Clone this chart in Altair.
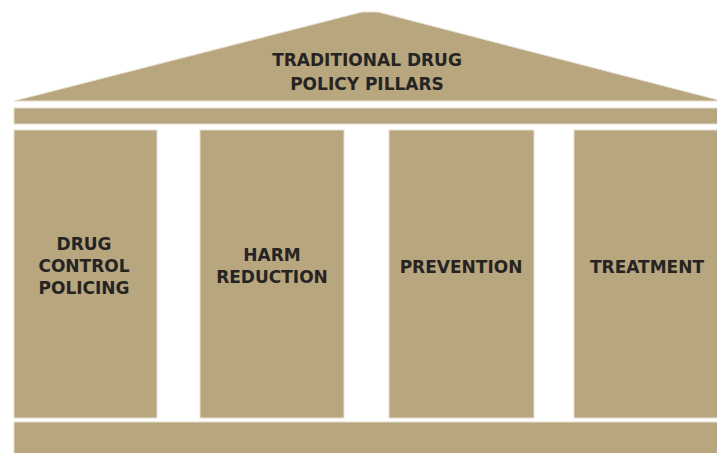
import altair as alt
import pandas as pd

TAN = "#B8A67F"
EDGE = "#E6DFD0"
INK = "#262422"

# Roof outline (triangle)
roof_x = [14, 362, 378, 722]
roof_y = [101, 12, 12, 101]

# Horizontal bands: entablature and base
band_x1 = [14, 14]
band_x2 = [722, 722]
band_y1 = [108, 422]
band_y2 = [124, 461]

# Pillars
pillar_names = ["DRUG CONTROL POLICING", "HARM REDUCTION", "PREVENTION", "TREATMENT"]
pillar_x1 = [14, 200, 389, 574]
pillar_x2 = [157, 344, 534, 722]
pillar_y1 = [130, 130, 130, 130]
pillar_y2 = [418, 418, 418, 418]

# Text lines
label_text = ["TRADITIONAL DRUG", "POLICY PILLARS",
              "DRUG", "CONTROL", "POLICING",
              "HARM", "REDUCTION",
              "PREVENTION", "TREATMENT"]
label_x = [367, 367, 84, 84, 84, 272, 272, 461, 647]
label_y = [61, 85, 245, 267, 289, 256, 278, 268, 268]

xs = alt.Scale(domain=[8, 717], nice=False, zero=False)
ys = alt.Scale(domain=[8, 453], nice=False, zero=False, reverse=True)
X = lambda f: alt.X(f, type="quantitative", scale=xs, axis=None)
Y = lambda f: alt.Y(f, type="quantitative", scale=ys, axis=None)

roof_df = pd.DataFrame({"x": roof_x, "y": roof_y, "base": [101] * len(roof_x)})
roof = alt.Chart(roof_df).mark_area(color=TAN, stroke=EDGE, strokeWidth=1, clip=True).encode(
    x=X("x"), y=Y("y"), y2="base"
)

band_df = pd.DataFrame({"x1": band_x1, "x2": band_x2, "y1": band_y1, "y2": band_y2})
bands = alt.Chart(band_df).mark_rect(color=TAN, stroke=EDGE, strokeWidth=1, clip=True).encode(
    x=X("x1"), x2="x2", y=Y("y1"), y2="y2"
)

pillar_df = pd.DataFrame({"name": pillar_names, "x1": pillar_x1, "x2": pillar_x2,
                          "y1": pillar_y1, "y2": pillar_y2})
pillars = alt.Chart(pillar_df).mark_rect(color=TAN, stroke=EDGE, strokeWidth=1, clip=True).encode(
    x=X("x1"), x2="x2", y=Y("y1"), y2="y2"
)

label_df = pd.DataFrame({"t": label_text, "x": label_x, "y": label_y})
labels = alt.Chart(label_df).mark_text(
    font="DejaVu Sans", fontWeight="bold", fontSize=17, color=INK,
    align="center", baseline="middle"
).encode(x=X("x"), y=Y("y"), text="t:N")

chart = alt.layer(roof, bands, pillars, labels).properties(
    width=709, height=445,
    autosize=alt.AutoSizeParams(type="none"),
    padding=0,
).configure_view(stroke=None)

chart.save("out.html", embed_options={"renderer": "svg", "actions": False})
